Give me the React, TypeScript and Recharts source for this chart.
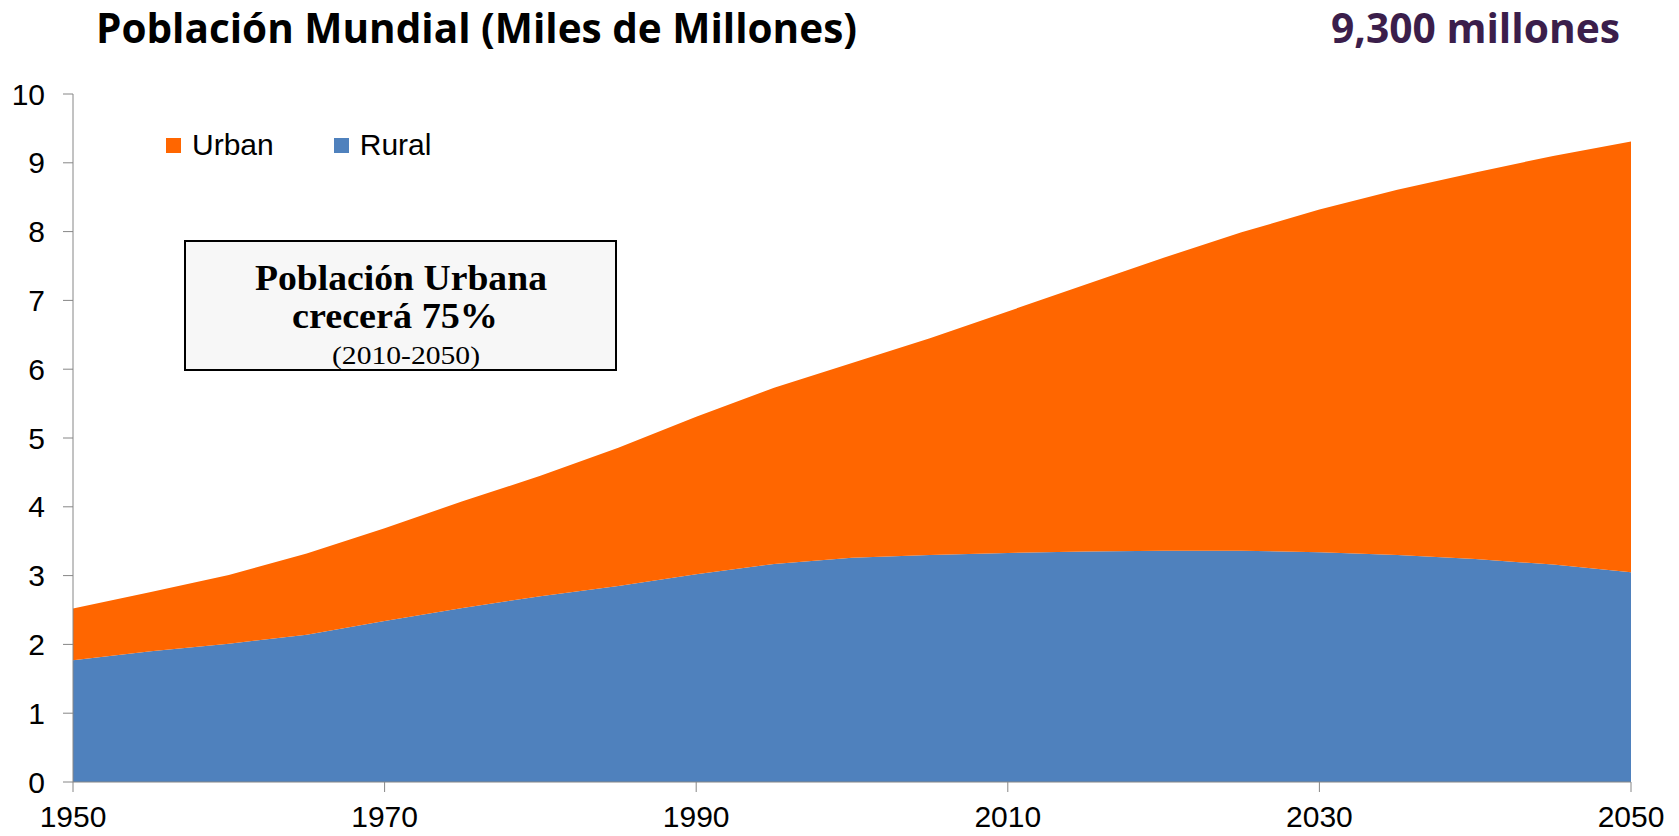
import { Area, AreaChart, Legend, XAxis, YAxis } from "recharts";

const years = [
  1950, 1955, 1960, 1965, 1970, 1975, 1980, 1985, 1990, 1995, 2000, 2005,
  2010, 2015, 2020, 2025, 2030, 2035, 2040, 2045, 2050,
];
const rural = [
  1.77, 1.9, 2.01, 2.14, 2.34, 2.53, 2.7, 2.85, 3.02, 3.17, 3.26, 3.3, 3.33,
  3.35, 3.36, 3.36, 3.34, 3.3, 3.24, 3.16, 3.05,
];
const urban = [
  0.75, 0.86, 1.0, 1.18, 1.35, 1.55, 1.75, 2.01, 2.29, 2.56, 2.83, 3.15, 3.51,
  3.88, 4.26, 4.63, 4.98, 5.31, 5.62, 5.94, 6.26,
];
const xTicks = [1950, 1970, 1990, 2010, 2030, 2050];
const yTicks = [0, 1, 2, 3, 4, 5, 6, 7, 8, 9, 10];

const legendItems = [
  { label: "Urban", color: "#FF6600" },
  { label: "Rural", color: "#4F81BD" },
];

const data = years.map((year, i) => ({
  year,
  rural: rural[i],
  urban: urban[i],
}));

const AXIS = "#868686";
const SANS = "'Liberation Sans', Arial, sans-serif";

function renderLegend() {
  return (
    <div style={{ display: "flex", fontFamily: SANS, fontSize: 30, lineHeight: "30px" }}>
      {legendItems.map((item, i) => (
        <div
          key={item.label}
          style={{
            display: "flex",
            alignItems: "center",
            marginRight: i === 0 ? 60 : 0,
          }}
        >
          <span
            style={{
              width: 15,
              height: 15,
              background: item.color,
              display: "inline-block",
              marginRight: 11,
            }}
          />
          <span style={{ color: "#000" }}>{item.label}</span>
        </div>
      ))}
    </div>
  );
}

export default function App() {
  return (
    <div
      style={{
        position: "absolute",
        top: 0,
        left: 0,
        width: 1679,
        height: 836,
        background: "#fff",
      }}
    >
      <AreaChart
        width={1679}
        height={836}
        data={data}
        margin={{ top: 94, right: 48, left: 13, bottom: 0 }}
      >
        <XAxis
          dataKey="year"
          type="number"
          domain={[1950, 2050]}
          ticks={xTicks}
          interval={0}
          height={54}
          tickSize={10}
          tickMargin={14}
          stroke={AXIS}
          tick={{ fill: "#000", fontSize: 30, fontFamily: SANS }}
        />
        <YAxis
          type="number"
          domain={[0, 10]}
          ticks={yTicks}
          interval={0}
          width={60}
          tickSize={10}
          tickMargin={18}
          stroke={AXIS}
          tick={{ fill: "#000", fontSize: 30, fontFamily: SANS }}
        />
        <Legend
          layout="vertical"
          align="center"
          verticalAlign="middle"
          content={renderLegend}
          wrapperStyle={{ top: 130, left: 166, width: "auto" }}
        />
        <Area
          type="linear"
          dataKey="rural"
          name="Rural"
          stackId="pop"
          stroke="none"
          fill="#4F81BD"
          fillOpacity={1}
          isAnimationActive={false}
        />
        <Area
          type="linear"
          dataKey="urban"
          name="Urban"
          stackId="pop"
          stroke="none"
          fill="#FF6600"
          fillOpacity={1}
          isAnimationActive={false}
        />
      </AreaChart>
      <svg
        width={1679}
        height={836}
        style={{ position: "absolute", top: 0, left: 0, pointerEvents: "none" }}
      >
        <text
          x={96}
          y={43}
          fontFamily="'Open Sans', sans-serif"
          fontWeight={700}
          fontSize={41}
          textLength={761}
          lengthAdjust="spacingAndGlyphs"
          fill="#000"
        >
          Población Mundial (Miles de Millones)
        </text>
        <text
          x={1331}
          y={43}
          fontFamily="'Open Sans', sans-serif"
          fontWeight={700}
          fontSize={41}
          textLength={289}
          lengthAdjust="spacingAndGlyphs"
          fill="#3B1E4B"
        >
          9,300 millones
        </text>
        <rect
          x={185}
          y={241}
          width={431}
          height={129}
          fill="#F7F7F7"
          stroke="#000"
          strokeWidth={2}
        />
        <text
          x={255}
          y={290}
          fontFamily="'Liberation Serif', serif"
          fontWeight={700}
          fontSize={35}
          textLength={292}
          lengthAdjust="spacingAndGlyphs"
          fill="#000"
        >
          Población Urbana
        </text>
        <text
          x={292}
          y={328}
          fontFamily="'Liberation Serif', serif"
          fontWeight={700}
          fontSize={35}
          textLength={206}
          lengthAdjust="spacingAndGlyphs"
          fill="#000"
        >
          crecerá 75%
        </text>
        <text
          x={332}
          y={364}
          fontFamily="'Liberation Serif', serif"
          fontSize={25}
          textLength={148}
          lengthAdjust="spacingAndGlyphs"
          fill="#000"
        >
          (2010-2050)
        </text>
      </svg>
    </div>
  );
}
